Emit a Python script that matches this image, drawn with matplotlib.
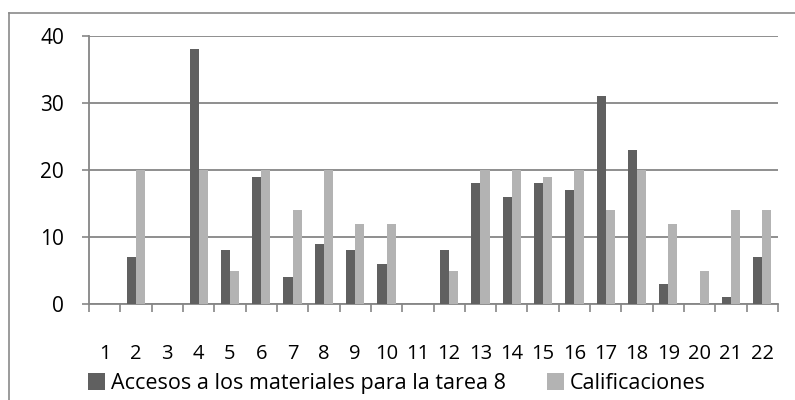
import matplotlib
matplotlib.use("Agg")
import matplotlib.pyplot as plt
import numpy as np
from matplotlib.lines import Line2D

categories = [str(i) for i in range(1, 23)]
accesos = [0, 7, 0, 38, 8, 19, 4, 9, 8, 6, 0, 8, 18, 16, 18, 17, 31, 23, 3, 0, 1, 7]
calificaciones = [0, 20, 0, 20, 5, 20, 14, 20, 12, 12, 0, 5, 20, 20, 19, 20, 14, 20, 12, 5, 14, 14]
series_names = ["Accesos a los materiales para la tarea 8", "Calificaciones"]
yticks = [0, 10, 20, 30, 40]

plt.rcParams['font.family'] = ['Open Sans', 'DejaVu Sans']

W, H = 795, 400
fig = plt.figure(figsize=(W/100, H/100), dpi=100)

# outer chart border (left and top visible)
border_c = '#8a8a8a'
fig.add_artist(Line2D([9/W, 9/W], [0, 1 - 12.5/H], transform=fig.transFigure,
                      color=border_c, linewidth=1.2))
fig.add_artist(Line2D([9/W, 1], [1 - 12.5/H, 1 - 12.5/H], transform=fig.transFigure,
                      color=border_c, linewidth=1.2))

ax = fig.add_axes([89/W, 1 - 304/H, (778-89)/W, (304-36)/H])

x = np.arange(len(categories))
w = 0.29
ax.bar(x - w/2, accesos, w, color='#606060', label=series_names[0], zorder=3)
ax.bar(x + w/2, calificaciones, w, color='#b3b3b3', label=series_names[1], zorder=3)

ax.set_xlim(-0.5, len(categories) - 0.5)
ax.set_ylim(0, 40)
ax.set_yticks(yticks)
ax.set_yticklabels([str(v) for v in yticks], fontsize=15)
ax.yaxis.grid(True, color='#868686', linewidth=1.3, zorder=0)
ax.set_axisbelow(True)

ax.set_xticks(x)
ax.set_xticklabels(categories, fontsize=14.5)
ax.set_xticks(np.arange(len(categories) + 1) - 0.5, minor=True)
ax.tick_params(axis='x', which='major', length=0, pad=29)
ax.tick_params(axis='x', which='minor', length=5.5, color='#868686', width=1.2, direction='out')
ax.tick_params(axis='y', length=5, color='#868686', width=1.2, pad=13)

for s in ['top', 'right']:
    ax.spines[s].set_visible(False)
for s in ['left', 'bottom']:
    ax.spines[s].set_color('#868686')
    ax.spines[s].set_linewidth(1.3)

leg = fig.legend(loc='center left', bbox_to_anchor=(88/W, 1 - 383.5/H), ncol=2, frameon=False,
                 fontsize=15.5, handlelength=0.79, handleheight=0.79, handletextpad=0.28,
                 columnspacing=1.9, borderpad=0, borderaxespad=0)

fig.savefig("out.png", dpi=100)
